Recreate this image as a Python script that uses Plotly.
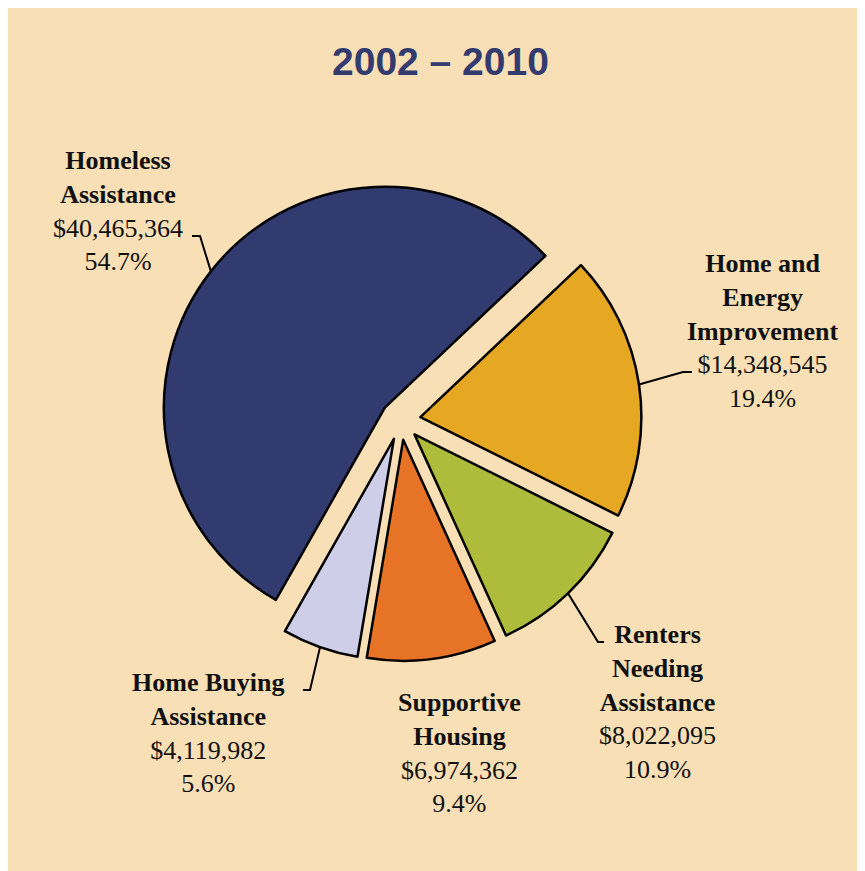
import math
import plotly.graph_objects as go

# ---- data ----
categories = ["Home and Energy Improvement", "Renters Needing Assistance",
              "Supportive Housing", "Home Buying Assistance", "Homeless Assistance"]
label_lines = [["Home and", "Energy", "Improvement"],
               ["Renters", "Needing", "Assistance"],
               ["Supportive", "Housing"],
               ["Home Buying", "Assistance"],
               ["Homeless", "Assistance"]]
amounts = [14348545, 8022095, 6974362, 4119982, 40465364]
amount_labels = ["$14,348,545", "$8,022,095", "$6,974,362", "$4,119,982", "$40,465,364"]
percent_labels = ["19.4%", "10.9%", "9.4%", "5.6%", "54.7%"]
colors = ["#E6A723", "#AFBC3B", "#E67326", "#CFCEE8", "#323B6F"]
title_text = "2002 – 2010"

# ---- layout constants (screen pixels; page has an 8px body margin) ----
OFF = 8
W, H = 865 - OFF, 871 - OFF
CX, CY = 400.6, 420.0       # pie centre
R = 221.0                   # pie radius
PULL = 0.0905               # pull fraction
ROT = 46.6                  # rotation (deg clockwise from 12 o'clock)

label_pos = [(763, 331), (657, 702), (459, 753), (208, 733), (118, 211)]
leader_elbow = [[(683, 372), (692, 372)],
                [(598, 642), (604, 642)],
                None,
                [(310, 690), (303, 690)],
                [(200, 236), (192, 236)]]


def px(x, y):
    return (x - OFF) / W, 1 - (y - OFF) / H


half = R * (1 + PULL)
dom_x = [px(CX - half, 0)[0], px(CX + half, 0)[0]]
dom_y = [px(0, CY + half)[1], px(0, CY - half)[1]]

fig = go.Figure(go.Pie(
    labels=categories,
    values=amounts,
    sort=False,
    direction="clockwise",
    rotation=ROT,
    pull=[PULL] * len(amounts),
    marker=dict(colors=colors, line=dict(color="#000000", width=2.5)),
    textinfo="none",
    hoverinfo="label+value+percent",
    showlegend=False,
    domain=dict(x=dom_x, y=dom_y),
))

shapes = []
tx, ty = px(440, 62)
annotations = [dict(text="<b>" + title_text + "</b>", x=tx, y=ty,
                    xref="paper", yref="paper", showarrow=False,
                    xanchor="center", yanchor="middle",
                    font=dict(family="Liberation Sans Narrow, Liberation Sans, Arial",
                              size=39, color="#333B6F"))]

total = sum(amounts)
cum = 0.0
for i, v in enumerate(amounts):
    mid = ROT + 360.0 * (cum + v / 2) / total
    cum += v
    a = math.radians(mid)
    d = R * PULL + R
    ex, ey = CX + d * math.sin(a), CY - d * math.cos(a)
    text = "<br>".join("<b>" + s + "</b>" for s in label_lines[i])
    text += "<br>" + amount_labels[i] + "<br>" + percent_labels[i]
    lx, ly = px(*label_pos[i])
    annotations.append(dict(text=text, x=lx, y=ly,
                            xref="paper", yref="paper", showarrow=False,
                            xanchor="center", yanchor="middle", align="center",
                            font=dict(family="Liberation Serif, Times New Roman, serif",
                                      size=26, color="#111111")))
    if leader_elbow[i]:
        pts = [(ex, ey)] + leader_elbow[i]
        path = "M " + " L ".join(f"{px(x, y)[0]},{px(x, y)[1]}" for x, y in pts)
        shapes.append(dict(type="path", xref="paper", yref="paper", path=path,
                           line=dict(color="#000000", width=2)))

fig.update_layout(
    width=W, height=H,
    margin=dict(l=0, r=0, t=0, b=0),
    paper_bgcolor="#F8DFB5",
    plot_bgcolor="rgba(0,0,0,0)",
    shapes=shapes,
    annotations=annotations,
)

fig.write_html("out.html")
